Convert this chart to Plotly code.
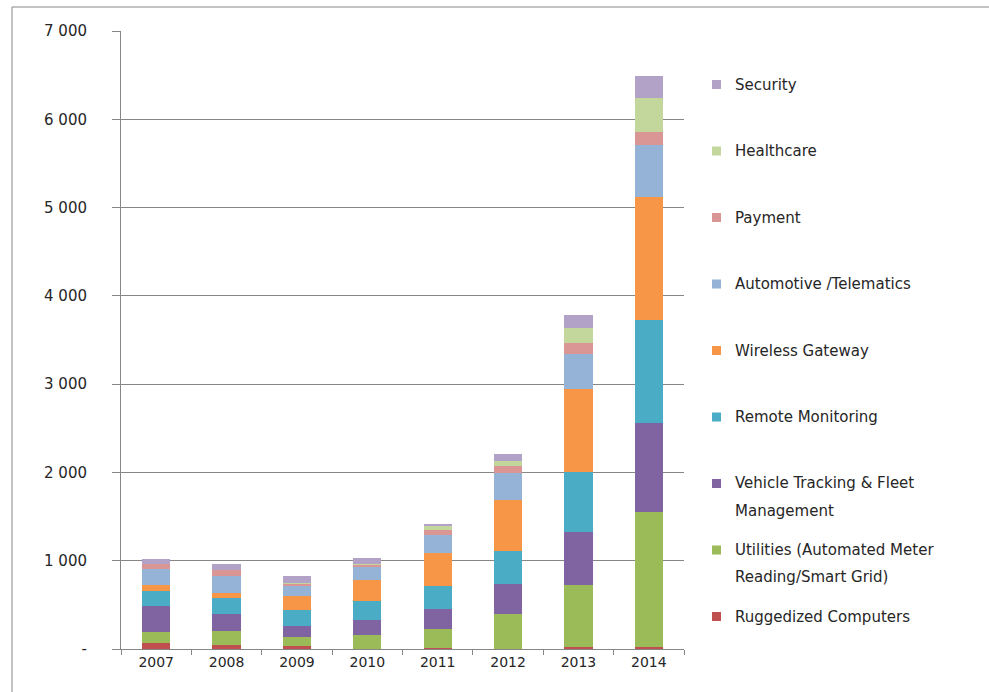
import plotly.graph_objects as go

years = ["2007", "2008", "2009", "2010", "2011", "2012", "2013", "2014"]

rugged = [65, 49, 30, 5, 10, 5, 25, 27]
utilities = [125, 152, 106, 158, 219, 396, 695, 1520]
vehicle = [301, 190, 130, 168, 224, 333, 600, 1015]
remote = [163, 187, 171, 209, 262, 375, 680, 1160]
wireless = [68, 60, 163, 239, 367, 584, 945, 1400]
automotive = [179, 187, 122, 152, 206, 299, 400, 585]
payment = [60, 68, 15, 25, 64, 83, 120, 145]
healthcare = [0, 0, 5, 10, 37, 56, 170, 385]
security = [54, 65, 80, 60, 30, 82, 150, 255]

series_names = [
    "Ruggedized Computers",
    "Utilities (Automated Meter Reading/Smart Grid)",
    "Vehicle Tracking & Fleet Management",
    "Remote Monitoring",
    "Wireless Gateway",
    "Automotive /Telematics",
    "Payment",
    "Healthcare",
    "Security",
]
legend_lines = [
    ["Ruggedized Computers"],
    ["Utilities (Automated Meter", "Reading/Smart Grid)"],
    ["Vehicle Tracking & Fleet", "Management"],
    ["Remote Monitoring"],
    ["Wireless Gateway"],
    ["Automotive /Telematics"],
    ["Payment"],
    ["Healthcare"],
    ["Security"],
]
series_values = [rugged, utilities, vehicle, remote, wireless, automotive, payment, healthcare, security]
colors = ["#C0504D", "#9BBB59", "#8064A2", "#4BACC6", "#F79646",
          "#95B3D7", "#D99694", "#C3D69B", "#B3A2C7"]

y_ticks = [0, 1000, 2000, 3000, 4000, 5000, 6000, 7000]
y_ticktext = ["-" if v == 0 else f"{v:,}".replace(",", " ") for v in y_ticks]

FONT = "DejaVu Sans"
TXT = "#262626"
GRID = "#878787"

W, H = 989, 692
PL, PR, PT, PB = 121, 684, 31, 649  # plot area pixel bounds


def px_x(px):
    return (px - PL) / (PR - PL)


def px_y(py):
    return (PB - py) / (PB - PT)


fig = go.Figure()
for name, vals, col in zip(series_names, series_values, colors):
    fig.add_trace(go.Bar(x=years, y=vals, name=name, marker=dict(color=col, line=dict(width=0)),
                         showlegend=False))

shapes = []
annotations = []
# outer chart border
shapes.append(dict(type="rect", xref="paper", yref="paper",
                   x0=px_x(12), x1=px_x(1000), y0=px_y(7), y1=px_y(720),
                   line=dict(color=GRID, width=1), fillcolor="rgba(0,0,0,0)", layer="below"))

# manual legend (top to bottom: reversed series order)
n = len(series_names)
for k in range(n):
    idx = n - 1 - k
    y0 = 84.5 + 66.5 * k
    shapes.append(dict(type="rect", xref="paper", yref="paper",
                       x0=px_x(712), x1=px_x(721), y0=px_y(y0 + 4.5), y1=px_y(y0 - 4.5),
                       line=dict(width=0), fillcolor=colors[idx]))
    for j, line in enumerate(legend_lines[idx]):
        annotations.append(dict(xref="paper", yref="paper", x=px_x(733), y=px_y(y0 + 27 * j),
                                text=line, showarrow=False, xanchor="left", yanchor="middle",
                                font=dict(family=FONT, size=15, color=TXT)))

fig.update_layout(
    width=W, height=H,
    margin=dict(l=PL, r=W - PR, t=PT, b=H - PB, pad=0),
    barmode="stack", bargap=0.6,
    plot_bgcolor="white", paper_bgcolor="white",
    font=dict(family=FONT, size=14, color=TXT),
    shapes=shapes, annotations=annotations,
    xaxis=dict(type="category", showgrid=False, showline=True, linecolor=GRID, linewidth=1,
               ticks="outside", tickson="boundaries", ticklen=5, tickcolor=GRID,
               tickfont=dict(family=FONT, size=14, color=TXT)),
    yaxis=dict(range=[0, 7000], tickvals=y_ticks, ticktext=y_ticktext, showgrid=True,
               gridcolor=GRID, gridwidth=1, showline=True, linecolor=GRID, linewidth=1,
               ticks="outside", ticklen=8, tickcolor=GRID, zeroline=False,
               ticklabelstandoff=22,
               tickfont=dict(family=FONT, size=15, color=TXT)),
)

fig.write_html("out.html")
